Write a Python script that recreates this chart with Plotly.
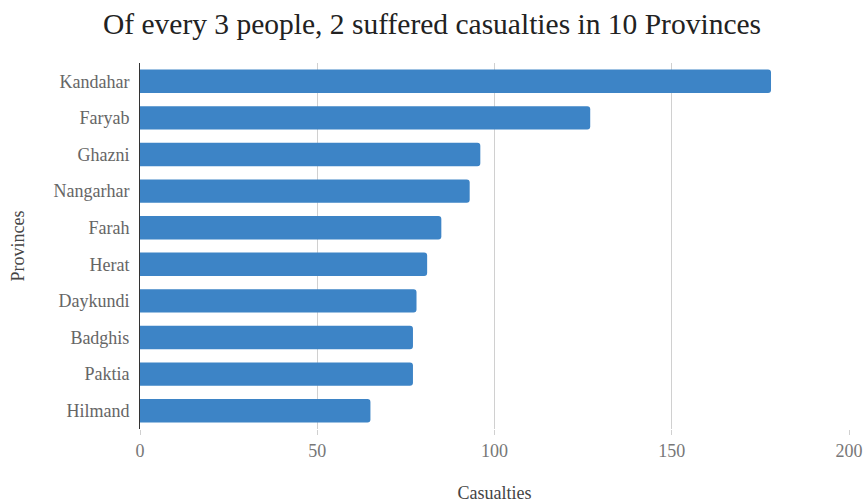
import plotly.graph_objects as go

provinces = ["Kandahar", "Faryab", "Ghazni", "Nangarhar", "Farah",
             "Herat", "Daykundi", "Badghis", "Paktia", "Hilmand"]
casualties = [178, 127, 96, 93, 85, 81, 78, 77, 77, 65]
x_ticks = [0, 50, 100, 150, 200]

font_family = "Liberation Serif"

fig = go.Figure(go.Bar(
    y=provinces,
    x=casualties,
    orientation="h",
    marker=dict(color="#3d84c6", cornerradius=3, line=dict(width=0)),
    width=0.64,
))

W, H = 864, 503
fig.update_layout(
    width=W, height=H,
    margin=dict(l=140, r=15, t=63, b=74),
    paper_bgcolor="white", plot_bgcolor="white",
    font=dict(family=font_family, color="#666666", size=18),
    title=dict(text="Of every 3 people, 2 suffered casualties in 10 Provinces",
               x=0.5, xanchor="center", y=1 - 24 / H, yanchor="middle",
               font=dict(family=font_family, size=29.5, color="#222222")),
    showlegend=False,
)

fig.update_xaxes(
    range=[0, 200], tickvals=x_ticks, ticktext=[str(v) for v in x_ticks],
    showgrid=True, gridcolor="#d0d0d0", gridwidth=1,
    zeroline=False, showline=False,
    ticks="outside", ticklen=5, tickcolor="#d0d0d0",
    tickfont=dict(family=font_family, size=18, color="#777777"),
    title=dict(text="Casualties", standoff=27,
               font=dict(family=font_family, size=18, color="#444444")),
    automargin=False,
)

fig.update_yaxes(
    categoryorder="array", categoryarray=provinces[::-1],
    showgrid=False, zeroline=False,
    showline=True, linecolor="#333333", linewidth=1,
    ticks="", ticklabelstandoff=6,
    tickfont=dict(family=font_family, size=18, color="#666666"),
    title=dict(text="Provinces", standoff=24,
               font=dict(family=font_family, size=18, color="#444444")),
    automargin=False,
)

fig.write_html(
    "out.html",
    config={"displayModeBar": False},
    post_script="document.body.style.margin='0';document.body.style.overflow='hidden';",
)
